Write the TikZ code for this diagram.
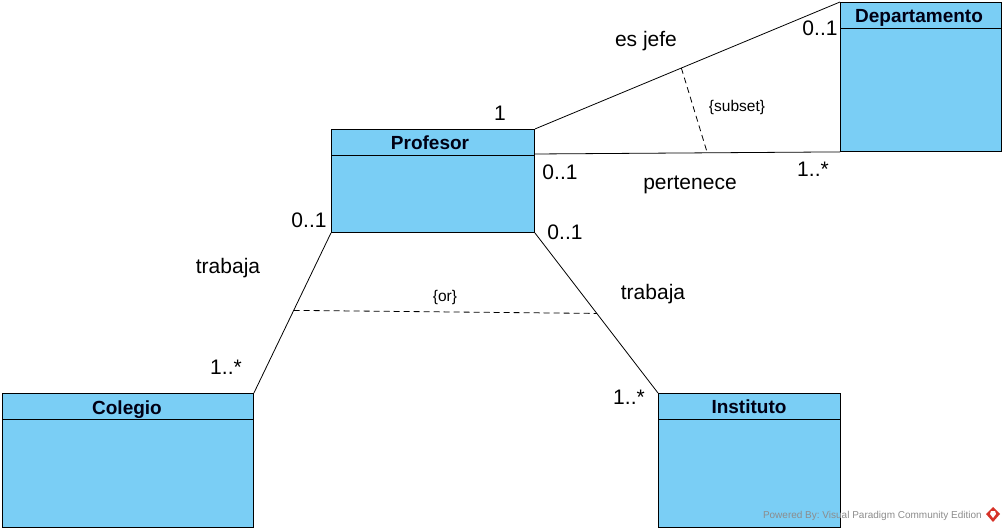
\documentclass[tikz,border=0pt]{standalone}
\usepackage{fontspec}
\setmainfont{Liberation Sans}
\usetikzlibrary{calc}
\definecolor{clsfill}{RGB}{122,206,245}
\definecolor{wmgray}{RGB}{140,140,140}
\definecolor{vpred}{RGB}{214,50,40}
\tikzset{
  cls/.style={draw=black, line width=0.9pt, fill=clsfill, rectangle, anchor=north west, inner sep=0pt},
  ctitle/.style={font=\fontsize{19}{21}\selectfont\bfseries, text=black!92!blue, inner sep=0pt, anchor=base},
  assoc/.style={draw=black, line width=0.8pt},
  cons/.style={draw=black, line width=0.8pt, dash pattern=on 6pt off 4pt},
  lbl/.style={font=\fontsize{21}{23}\selectfont, inner sep=0pt},
  clbl/.style={font=\fontsize{15.5}{17}\selectfont, inner sep=0pt},
}
\begin{document}
\begin{tikzpicture}[x=1pt,y=-1pt]
\useasboundingbox (0,0) rectangle (1005,532);
% classes
\node[cls, minimum width=203pt, minimum height=103pt] (prof) at (331,129) {};
\draw[line width=0.9pt] ($(prof.north west)+(0,26)$) -- ($(prof.north east)+(0,26)$);
\node[ctitle] (profT) at (430,150) {Profesor};

\node[cls, minimum width=161pt, minimum height=149pt] (dep) at (840,2) {};
\draw[line width=0.9pt] ($(dep.north west)+(0,26)$) -- ($(dep.north east)+(0,26)$);
\node[ctitle] (depT) at (919,22.5) {Departamento};

\node[cls, minimum width=251pt, minimum height=134pt] (col) at (2,393) {};
\draw[line width=0.9pt] ($(col.north west)+(0,26)$) -- ($(col.north east)+(0,26)$);
\node[ctitle] (colT) at (127,414) {Colegio};

\node[cls, minimum width=182pt, minimum height=134pt] (inst) at (658,393) {};
\draw[line width=0.9pt] ($(inst.north west)+(0,26)$) -- ($(inst.north east)+(0,26)$);
\node[ctitle] (instT) at (749,413.5) {Instituto};

% associations
\coordinate (pA) at ($(prof.north east)+(0,25)$);
\coordinate (dA) at (dep.south west);
\draw[assoc] (prof.north east) -- (dep.north west) coordinate[pos=0.48] (s1);
\draw[assoc] (pA) -- (dA) coordinate[pos=0.565] (s2);
\draw[cons] (s1) -- (s2);

\draw[assoc] (prof.south west) -- (col.north east) coordinate[pos=0.484] (o1);
\draw[assoc] (prof.south east) -- (inst.north west) coordinate[pos=0.503] (o2);
\draw[cons] (o1) -- (o2);

% labels
\node[lbl] (m1) at (500,113) {1};
\node[lbl] (ej) at (646,41) {es jefe};
\node[lbl] (m2) at (820,28) {0..1};
\node[clbl] (sub) at (737,107) {\{subset\}};
\node[lbl] (m3) at (560,172) {0..1};
\node[lbl] (per) at (690,185) {pertenece};
\node[lbl] (m4) at (813,169) {1..*};
\node[lbl] (m5) at (309,220) {0..1};
\node[lbl] (tr1) at (228,268) {trabaja};
\node[lbl] (m6) at (226,367) {1..*};
\node[clbl] (or) at (445,297) {\{or\}};
\node[lbl] (m7) at (565,232) {0..1};
\node[lbl] (tr2) at (653,294) {trabaja};
\node[lbl] (m8) at (629,397) {1..*};

% watermark
\node[font=\fontsize{10}{12}\selectfont, text=wmgray, inner sep=0pt, anchor=east] (wm) at (982,516) {Powered By:\ Visual Paradigm Community Edition};
\fill[vpred] (993,507) -- (1000,514) -- (993,522) -- (986,514) -- cycle;
\fill[white] (991,511) -- (995,511) -- (996,514) -- (993,518) -- (990,514) -- cycle;
\end{tikzpicture}
\end{document}
